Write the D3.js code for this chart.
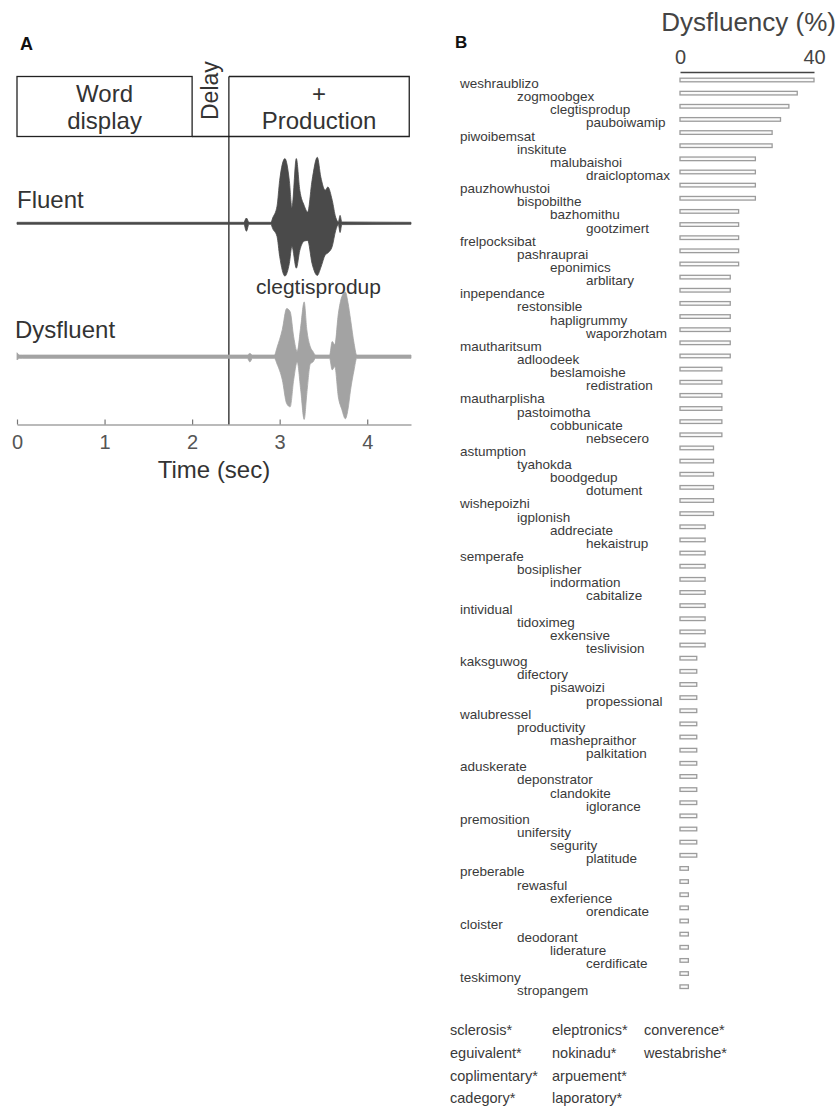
<!DOCTYPE html>
<html>
<head>
<meta charset="utf-8">
<script src="https://cdn.jsdelivr.net/npm/d3@7"></script>
<style>
  html, body { margin: 0; padding: 0; background: #fff; }
  svg { display: block; font-family: "Liberation Sans", Arial, Helvetica, sans-serif; }
</style>
</head>
<body>
<svg id="chart" width="838" height="1110"></svg>
<script>
// ---------------- DATA ----------------
// Panel A: trial timeline (seconds)
const phaseWordStart = 0, phaseWordEnd = 2.0, phaseProdStart = 2.42, phaseProdEnd = 4.48;
const timeTicks = [0, 1, 2, 3, 4];

// Waveform envelopes (time in s, normalized amplitude)
const fluentT  = [0, 2.59, 2.62, 2.65, 2.90, 2.92, 2.97, 3.00, 3.06, 3.11, 3.14, 3.19, 3.23, 3.28, 3.32, 3.37, 3.43, 3.47, 3.52, 3.55, 3.60, 3.64, 3.67, 3.69, 3.71, 4.5];
const fluentUp = [.015, .015, .08, .015, .015, .08, .26, .65, .98, .65, .24, .98, .50, .27, .17, .65, 1.00, .70, .50, .55, .35, .09, .02, .12, .02, .015];
const fluentLo = [-.015, -.015, -.12, -.015, -.015, -.08, -.20, -.50, -.80, -.61, -.35, -.68, -.41, -.27, -.26, -.61, -.79, -.67, -.48, -.45, -.35, -.11, -.02, -.14, -.02, -.015];

const dysT  = [0, 0.03, 0.06, 2.63, 2.66, 2.69, 2.94, 2.97, 3.03, 3.08, 3.12, 3.16, 3.20, 3.24, 3.28, 3.31, 3.35, 3.38, 3.41, 3.57, 3.60, 3.63, 3.67, 3.71, 3.75, 3.78, 3.81, 3.85, 3.88, 4.5];
const dysUp = [.06, .025, .025, .025, .05, .025, .025, .14, .41, .73, .68, .30, .08, .45, .83, .41, .15, .08, .025, .025, .23, .18, .65, .91, .98, .82, .56, .20, .025, .025];
const dysLo = [-.05, -.025, -.025, -.025, -.08, -.025, -.025, -.11, -.35, -.71, -.76, -.35, -.08, -.50, -.95, -.56, -.11, -.08, -.025, -.025, -.20, -.15, -.61, -.80, -.94, -.80, -.50, -.20, -.025, -.025];

const exampleWord = "clegtisprodup";

// Panel B: dysfluency per word (%)
const words = ["weshraublizo","zogmoobgex","clegtisprodup","pauboiwamip","piwoibemsat","inskitute","malubaishoi","draicloptomax",
  "pauzhowhustoi","bispobilthe","bazhomithu","gootzimert","frelpocksibat","pashrauprai","eponimics","arblitary",
  "inpependance","restonsible","hapligrummy","waporzhotam","mautharitsum","adloodeek","beslamoishe","redistration",
  "mautharplisha","pastoimotha","cobbunicate","nebsecero","astumption","tyahokda","boodgedup","dotument",
  "wishepoizhi","igplonish","addreciate","hekaistrup","semperafe","bosiplisher","indormation","cabitalize",
  "intividual","tidoximeg","exkensive","teslivision","kaksguwog","difectory","pisawoizi","propessional",
  "walubressel","productivity","mashepraithor","palkitation","aduskerate","deponstrator","clandokite","iglorance",
  "premosition","unifersity","segurity","platitude","preberable","rewasful","exferience","orendicate",
  "cloister","deodorant","liderature","cerdificate","teskimony","stropangem"];
const dysfluency = [40, 35, 32.5, 30, 27.5, 27.5, 22.5, 22.5,
  22.5, 22.5, 17.5, 17.5, 17.5, 17.5, 17.5, 15,
  15, 15, 15, 15, 15, 15, 12.5, 12.5,
  12.5, 12.5, 12.5, 12.5, 10, 10, 10, 10,
  10, 10, 7.5, 7.5, 7.5, 7.5, 7.5, 7.5,
  7.5, 7.5, 7.5, 7.5, 5, 5, 5, 5,
  5, 5, 5, 5, 5, 5, 5, 5,
  5, 5, 5, 5, 2.5, 2.5, 2.5, 2.5,
  2.5, 2.5, 2.5, 2.5, 2.5, 2.5];
const dysTicks = [0, 40];

// words never produced dysfluently (marked *)
const starCol1 = ["sclerosis*", "eguivalent*", "coplimentary*", "cadegory*"];
const starCol2 = ["eleptronics*", "nokinadu*", "arpuement*", "laporatory*"];
const starCol3 = ["converence*", "westabrishe*"];

// ---------------- DRAW ----------------
const svg = d3.select("#chart");
const textCol = "#333";

// ===== Panel A =====
const x = d3.scaleLinear().domain([0, 4.5]).range([17, 411]);
const boxTop = 76.5, boxBot = 136.5, axisY = 424.5;

svg.append("text").attr("x", 20).attr("y", 50).attr("font-size", 18).attr("font-weight", "bold")
  .attr("fill", "#111").text("A");

const gA = svg.append("g");
gA.append("rect").attr("x", x(phaseWordStart)).attr("y", boxTop)
  .attr("width", x(phaseWordEnd) - x(phaseWordStart)).attr("height", boxBot - boxTop)
  .attr("fill", "none").attr("stroke", "#222").attr("stroke-width", 1.3);
gA.append("line").attr("x1", x(phaseWordEnd)).attr("x2", x(phaseProdStart))
  .attr("y1", boxBot).attr("y2", boxBot).attr("stroke", "#222").attr("stroke-width", 1.3);
gA.append("path")
  .attr("d", `M${x(phaseProdStart)},${boxTop}H${x(phaseProdEnd)}V${boxBot}H${x(phaseProdStart)}`)
  .attr("fill", "none").attr("stroke", "#222").attr("stroke-width", 1.3);
gA.append("line").attr("x1", x(phaseProdStart)).attr("x2", x(phaseProdStart))
  .attr("y1", boxTop).attr("y2", axisY).attr("stroke", "#111").attr("stroke-width", 1.2);

const wc = (x(phaseWordStart) + x(phaseWordEnd)) / 2;
const pc = (x(phaseProdStart) + x(phaseProdEnd)) / 2;
gA.append("text").attr("x", wc).attr("y", 102).attr("text-anchor", "middle").attr("font-size", 24).attr("fill", textCol).text("Word");
gA.append("text").attr("x", wc).attr("y", 129).attr("text-anchor", "middle").attr("font-size", 24).attr("fill", textCol).text("display");
gA.append("text").attr("x", pc).attr("y", 102).attr("text-anchor", "middle").attr("font-size", 24).attr("fill", textCol).text("+");
gA.append("text").attr("x", pc).attr("y", 129).attr("text-anchor", "middle").attr("font-size", 24).attr("fill", textCol).text("Production");
gA.append("text").attr("transform", `translate(${(x(phaseWordEnd) + x(phaseProdStart)) / 2 + 8},120) rotate(-90)`)
  .attr("font-size", 23).attr("fill", textCol).text("Delay");

function drawWave(T, U, L, base, color) {
  const amp = d3.scaleLinear().domain([-1, 1]).range([base + 66, base - 66]);
  const pts = T.map((t, i) => ({ t, u: U[i], l: L[i] }));
  const area = d3.area().x(d => x(d.t)).y0(d => amp(d.l)).y1(d => amp(d.u)).curve(d3.curveMonotoneX);
  gA.append("path").datum(pts).attr("d", area).attr("fill", color).attr("stroke", color).attr("stroke-width", 0.8);
}
drawWave(fluentT, fluentUp, fluentLo, 223.3, "#4a4a4a");
drawWave(dysT, dysUp, dysLo, 356.7, "#a3a3a3");

gA.append("text").attr("x", 17).attr("y", 208).attr("font-size", 24).attr("fill", textCol).text("Fluent");
gA.append("text").attr("x", 15).attr("y", 338).attr("font-size", 24).attr("fill", textCol).text("Dysfluent");
gA.append("text").attr("x", 318.5).attr("y", 294).attr("text-anchor", "middle").attr("font-size", 21).attr("fill", textCol).text(exampleWord);

const axA = d3.axisTop(x).tickValues(timeTicks).tickSize(5).tickSizeOuter(0).tickFormat(d3.format("d"));
const gAx = gA.append("g").attr("transform", `translate(0,${axisY})`).call(axA);
gAx.select(".domain").attr("stroke", "#777").attr("stroke-width", 1.2);
gAx.selectAll(".tick line").attr("stroke", "#777").attr("stroke-width", 1.2);
gAx.selectAll(".tick text").attr("y", 24).attr("dy", 0).attr("font-size", 20).attr("fill", "#555")
  .attr("font-family", "Liberation Sans, Arial, sans-serif");
gA.append("text").attr("x", 214).attr("y", 478).attr("text-anchor", "middle").attr("font-size", 24).attr("fill", textCol).text("Time (sec)");

// ===== Panel B =====
svg.append("text").attr("x", 455).attr("y", 48).attr("font-size", 17).attr("font-weight", "bold")
  .attr("fill", "#111").text("B");

const xb = d3.scaleLinear().domain([0, 40]).range([680, 814]);
const yb = d3.scalePoint().domain(words).range([80, 986.7]);
const gB = svg.append("g");

svg.append("text").attr("x", 836).attr("y", 31).attr("text-anchor", "end").attr("font-size", 26).attr("fill", "#444").text("Dysfluency (%)");

const axB = d3.axisTop(xb).tickValues(dysTicks).tickSize(0).tickSizeOuter(0).tickPadding(8);
const gBx = gB.append("g").attr("transform", "translate(0,72)").call(axB);
gBx.select(".domain").attr("stroke", "#444").attr("stroke-width", 1.3);
gBx.selectAll(".tick text").attr("font-size", 20).attr("fill", "#444")
  .attr("font-family", "Liberation Sans, Arial, sans-serif");

const data = words.map((w, i) => ({ w, v: dysfluency[i], i }));
gB.selectAll("rect.bar").data(data).join("rect").attr("class", "bar")
  .attr("x", xb(0)).attr("y", d => yb(d.w) - 1.8)
  .attr("width", d => xb(d.v) - xb(0)).attr("height", 3.6)
  .attr("fill", "#fafafa").attr("stroke", "#9c9c9c").attr("stroke-width", 1.3);

const colX = [460, 517, 550, 586];
gB.selectAll("text.lbl").data(data).join("text").attr("class", "lbl")
  .attr("x", d => colX[d.i % 4]).attr("y", d => yb(d.w) + 8)
  .attr("font-size", 13.5).attr("fill", "#3a3a3a").text(d => d.w);

const rowY = [1035, 1058, 1081, 1103];
[[starCol1, 450], [starCol2, 552], [starCol3, 644]].forEach(([list, cx]) => {
  gB.selectAll(null).data(list).join("text")
    .attr("x", cx).attr("y", (d, i) => rowY[i])
    .attr("font-size", 14.5).attr("fill", "#3a3a3a").text(d => d);
});
</script>
</body>
</html>
